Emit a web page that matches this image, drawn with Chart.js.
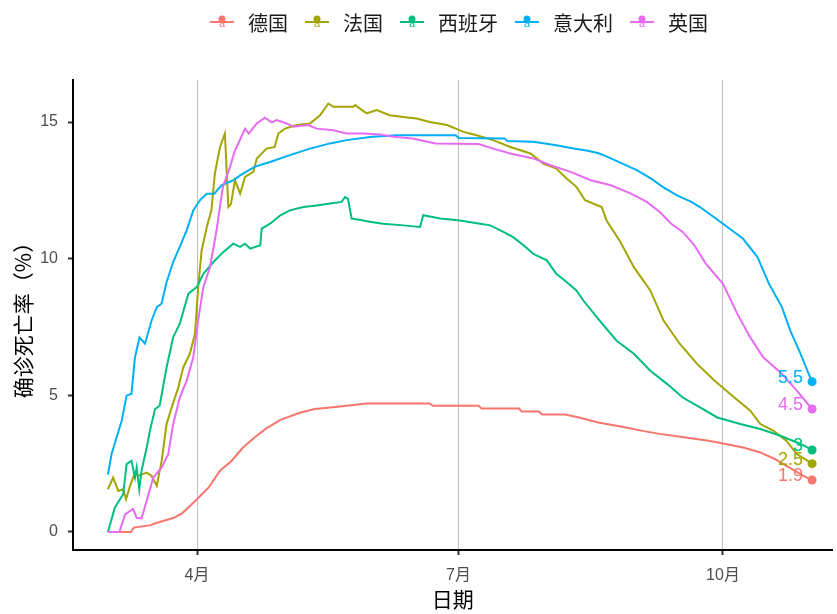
<!DOCTYPE html>
<html><head><meta charset="utf-8">
<script src="https://cdn.jsdelivr.net/npm/chart.js@4/dist/chart.umd.min.js"></script>
<style>html,body{margin:0;padding:0;background:#fff}</style>
</head><body>
<canvas id="c" width="837" height="614"></canvas>
<script>
// Series names and colours (ggplot default hues)
const seriesNames = ['德国','法国','西班牙','意大利','英国'];
const seriesColors = ['#F8766D','#A3A500','#00BF7D','#00B0F6','#E76BF3'];

// x values: days since 2020-03-01; y values: case fatality rate (%)
const deDays = [0,8,9,15,16,23,26,31,35,39,43,47,51,55,60,67,72,80,90,112,113,129,130,143,144,150,151,159,164,171,179,186,192,201,209,214,221,227,232,237,242,245];
const deVals = [0,0,0.16,0.25,0.3,0.52,0.7,1.2,1.62,2.24,2.6,3.09,3.46,3.78,4.1,4.37,4.5,4.58,4.7,4.7,4.62,4.62,4.52,4.52,4.41,4.41,4.3,4.3,4.19,4.0,3.85,3.7,3.59,3.46,3.34,3.24,3.09,2.91,2.67,2.36,2.05,1.9];

const frDays = [0,1.8,3.6,5.3,6.3,7.7,9.4,10.5,13.5,15.2,17,18.7,20.4,22.2,24.5,26.2,28.5,30.3,31.4,32.6,34.4,36,37.2,39,40.7,41.9,42.8,44.2,46,47.7,50.6,51.8,55.2,58,59.3,61.6,65.7,70.3,73.8,76.7,78.4,85.4,86,90,93.5,98,102.8,107.4,112,118,123.7,128.3,134,140,147,151.5,156,159.7,163,166,171.8,173.5,178,183,188.7,193.3,199,205,211,216.5,223.5,227,231.6,236,239.7,245];
const frVals = [1.56,1.99,1.5,1.56,1.2,1.69,2.17,2.05,2.17,2.05,1.69,2.6,3.95,4.56,5.29,6.02,6.52,7.25,8.96,10.3,11.16,11.77,13.11,14.09,14.58,11.89,12.0,12.87,12.38,12.99,13.18,13.67,14.03,14.09,14.58,14.76,14.89,14.95,15.25,15.68,15.56,15.56,15.62,15.32,15.44,15.25,15.19,15.13,15.0,14.89,14.64,14.52,14.34,14.09,13.85,13.48,13.3,12.93,12.63,12.14,11.89,11.4,10.67,9.69,8.84,7.74,6.88,6.15,5.54,5.05,4.44,3.95,3.7,3.34,2.85,2.5];

const esDays = [0,2.4,4.2,5.3,6.5,8.2,9.4,10,10.9,11.7,13.5,14.6,16.4,18,20.4,22.7,25,28,30.9,33.2,36.7,40.1,43.6,46,47.7,49.5,53,53.5,56.4,60,63.3,68,72.6,77.3,81.3,82.5,83.5,84.8,88.9,91,95.8,102.8,108.6,109.7,115.6,122.5,129.5,133,137.6,141,144.6,148,152.7,156,159.7,163,165.4,171,177,183,188.7,194.5,200,206,212,220,227,234,241,245];
const esVals = [0,0.89,1.2,1.38,2.48,2.6,1.99,2.36,1.56,2.24,3.09,3.7,4.5,4.62,6.02,7.12,7.62,8.72,8.96,9.45,9.88,10.24,10.55,10.43,10.55,10.37,10.49,11.1,11.28,11.59,11.77,11.89,11.95,12.02,12.08,12.26,12.2,11.47,11.4,11.35,11.28,11.22,11.16,11.59,11.47,11.4,11.28,11.22,10.98,10.79,10.49,10.18,9.94,9.45,9.14,8.84,8.47,7.74,7.0,6.52,5.9,5.42,4.92,4.56,4.19,3.95,3.77,3.52,3.22,3.0];

const itDays = [0,1.3,3,4.8,6.5,8.2,9.4,11,12.9,15.2,17,18.7,20.4,22.7,25,27.4,29.7,32,34.4,37,39.6,43.6,46,51,56.4,63.3,70.3,77.3,83,92,100.5,121,122,138,139,148,156,162,167,171,175,179,184,189,193,198,203,206,214,221,226,230,234.5,237.4,241,243.6,245];
const itVals = [2.1,2.86,3.46,4.07,4.99,5.06,6.39,7.12,6.89,7.74,8.23,8.36,9.14,9.88,10.43,11.04,11.77,12.14,12.38,12.38,12.69,12.87,13.05,13.36,13.54,13.79,14.03,14.22,14.34,14.46,14.52,14.52,14.42,14.4,14.31,14.28,14.15,14.03,13.95,13.85,13.67,13.48,13.24,12.93,12.63,12.32,12.08,11.89,11.28,10.73,10.06,9.08,8.23,7.37,6.52,5.84,5.5];

const ukDays = [0,4,6,8.8,10,11.7,13.5,15.8,18.7,21,22.7,25,27.4,29.7,31.4,33.2,35.5,37.8,40,42.5,44,47.7,49,51.8,54.6,57,58.7,62.2,64.5,69.6,72.6,78.4,83,89,94.7,99.3,106,114,129,134,140,148,154,161,168,175,182,187.5,192,196,200,204,208,214,219,223.5,228,234,239.7,245];
const ukVals = [0,0,0.65,0.84,0.52,0.5,1.14,1.99,2.36,2.85,3.95,4.92,5.54,6.39,7.74,8.96,9.69,11.04,12.63,13.36,13.9,14.76,14.58,14.95,15.16,14.99,15.07,14.95,14.83,14.89,14.76,14.7,14.58,14.58,14.55,14.46,14.4,14.22,14.2,14.03,13.85,13.67,13.42,13.18,12.87,12.69,12.38,12.08,11.71,11.28,10.98,10.5,9.82,9.08,7.98,7.12,6.39,5.84,5.17,4.5];

// Axis ticks
const xTickDays = [31,122,214];
const xTickLabels = ['4月','7月','10月'];
const yTicks = [0,5,10,15];

const allDays = [deDays, frDays, esDays, itDays, ukDays];
const allVals = [deVals, frVals, esVals, itVals, ukVals];

const LATIN = "'Liberation Sans', 'Noto Sans CJK SC', sans-serif";
const CJK = "'Noto Sans CJK SC', sans-serif";

const datasets = seriesNames.map((name, i) => {
  const days = allDays[i], vals = allVals[i];
  const last = days.length - 1;
  return {
    label: name,
    data: days.map((d, k) => ({x: d, y: vals[k]})),
    borderColor: seriesColors[i],
    backgroundColor: seriesColors[i],
    borderWidth: 2,
    tension: 0,
    fill: false,
    order: seriesNames.length - i,
    pointRadius: ctx => ctx.dataIndex === last ? 4.5 : 0,
    pointHoverRadius: 0,
    pointBorderWidth: 0
  };
});

const legendPlugin = {
  id: 'ggLegend',
  afterDraw(chart) {
    const ctx = chart.ctx;
    ctx.save();
    const fontMain = "20px " + CJK;
    ctx.font = fontMain;
    const widths = seriesNames.map(n => ctx.measureText(n).width);
    const textGap = 26, itemGap = 29, half = 12;
    let span = half + textGap;
    widths.forEach((w, i) => { span += w + (i < widths.length - 1 ? itemGap + textGap : 0); });
    let x = 459 - span / 2 + half;
    const y = 22;
    seriesNames.forEach((n, i) => {
      const c = seriesColors[i];
      ctx.strokeStyle = c; ctx.lineWidth = 2;
      ctx.beginPath(); ctx.moveTo(x - 12, y); ctx.lineTo(x + 12, y); ctx.stroke();
      ctx.fillStyle = c;
      ctx.beginPath(); ctx.arc(x, y - 3, 3.5, 0, Math.PI * 2); ctx.fill();
      ctx.font = "11px " + LATIN; ctx.textAlign = 'center'; ctx.textBaseline = 'middle';
      ctx.fillText('a', x, y + 2);
      ctx.font = fontMain; ctx.textAlign = 'left'; ctx.fillStyle = '#1A1A1A';
      ctx.fillText(n, x + textGap, y + 1);
      x += textGap + widths[i] + itemGap;
    });
    ctx.restore();
  }
};

const endLabelPlugin = {
  id: 'endLabels',
  afterDatasetsDraw(chart) {
    const ctx = chart.ctx;
    ctx.save();
    ctx.font = "18px " + LATIN;
    ctx.textAlign = 'right';
    ctx.textBaseline = 'middle';
    chart.data.datasets.forEach((ds, i) => {
      const meta = chart.getDatasetMeta(i);
      const pt = meta.data[meta.data.length - 1];
      const vals = allVals[i];
      ctx.fillStyle = seriesColors[i];
      ctx.fillText(String(vals[vals.length - 1]), pt.x - 9, pt.y - 4);
    });
    ctx.restore();
  }
};

new Chart(document.getElementById('c').getContext('2d'), {
  type: 'line',
  data: {datasets},
  options: {
    responsive: false,
    animation: false,
    layout: {padding: {top: 80, right: 2, left: 0, bottom: 0}},
    plugins: {legend: {display: false}, tooltip: {enabled: false}},
    scales: {
      x: {
        type: 'linear', min: -12.15, max: 252.1,
        afterBuildTicks: s => { s.ticks = xTickDays.map(v => ({value: v})); },
        afterFit: s => { s.height = 64; },
        ticks: {autoSkip: false, maxRotation: 0, padding: 11, color: '#4D4D4D',
          font: {family: LATIN, size: 16},
          callback: v => { const k = xTickDays.indexOf(v); return k >= 0 ? xTickLabels[k] : ''; }},
        grid: {color: '#BEBEBE', lineWidth: 1, drawTicks: true, tickLength: 5, tickColor: '#333', tickWidth: 2},
        border: {display: true, color: '#000', width: 2},
        title: {display: true, text: '日期', color: '#000', font: {family: CJK, size: 21}, padding: {top: 0, bottom: 2}}
      },
      y: {
        min: -0.66, max: 16.54,
        afterBuildTicks: s => { s.ticks = yTicks.map(v => ({value: v})); },
        afterFit: s => { s.width = 73; },
        ticks: {padding: 10, color: '#4D4D4D', font: {family: LATIN, size: 16}},
        grid: {drawOnChartArea: false, drawTicks: true, tickLength: 5, tickColor: '#333', tickWidth: 2},
        border: {display: true, color: '#000', width: 2},
        title: {display: true, text: '确诊死亡率（%）', color: '#000', font: {family: CJK, size: 21}, padding: {top: 10, bottom: 0}}
      }
    }
  },
  plugins: [legendPlugin, endLabelPlugin]
});
</script>
</body></html>
